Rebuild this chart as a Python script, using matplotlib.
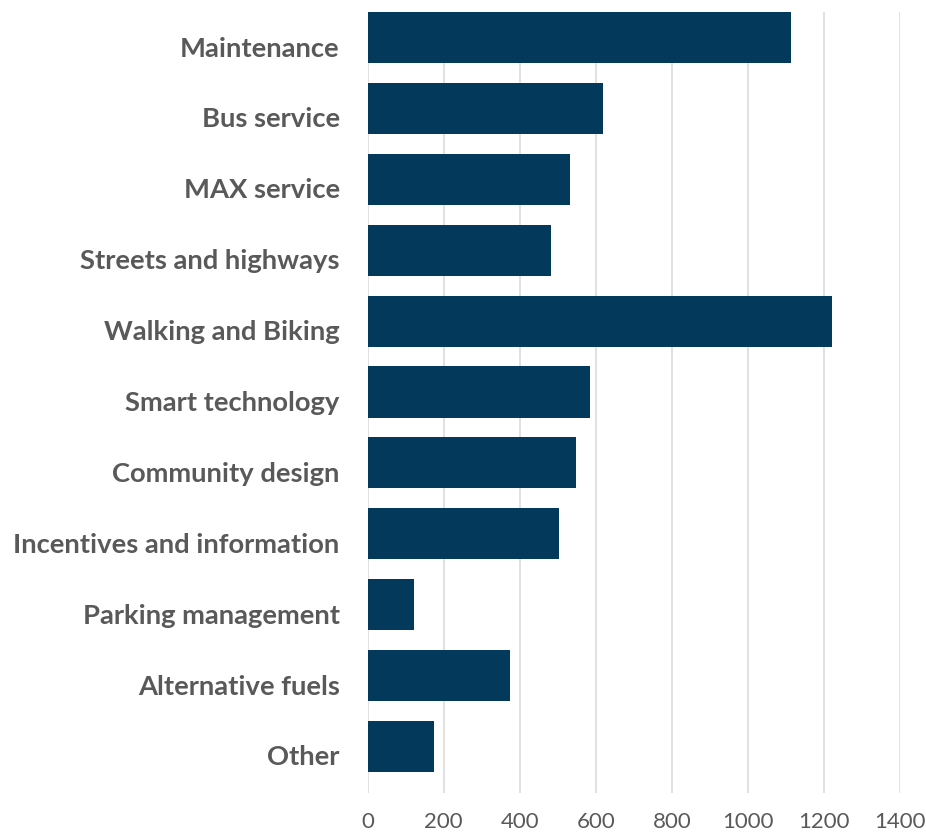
import matplotlib
matplotlib.use("Agg")
import matplotlib.pyplot as plt
from matplotlib.transforms import ScaledTranslation

categories = [
    "Maintenance",
    "Bus service",
    "MAX service",
    "Streets and highways",
    "Walking and Biking",
    "Smart technology",
    "Community design",
    "Incentives and information",
    "Parking management",
    "Alternative fuels",
    "Other",
]
votes = [1113, 620, 533, 483, 1221, 586, 548, 504, 121, 374, 174]
x_ticks = [0, 200, 400, 600, 800, 1000, 1200, 1400]

bar_color = "#03395a"
text_color = "#595959"
grid_color = "#d9d9d9"

W, H = 926, 833
fig = plt.figure(figsize=(W / 100, H / 100), dpi=100)
ax = fig.add_axes([367.5 / W, 1 - 793 / H, 532.5 / W, 781 / H])

ypos = list(range(len(categories)))
ax.barh(ypos, votes, height=0.72, color=bar_color, zorder=3)

ax.set_xlim(0, 1400)
ax.set_ylim(10.656, -0.36)
ax.set_xticks(x_ticks)
ax.set_xticklabels([str(t) for t in x_ticks], fontsize=16, color=text_color,
                   family="Lato")
ax.set_yticks(ypos)
ax.set_yticklabels(categories, fontsize=19.7, fontweight="bold", color=text_color,
                   family="Lato")
ax.tick_params(axis="x", length=0, pad=14)
ax.tick_params(axis="y", length=0, pad=20)

# category labels sit a little below the bar centres
shift = ScaledTranslation(0, -9 / 100, fig.dpi_scale_trans)
for lbl in ax.get_yticklabels():
    lbl.set_transform(lbl.get_transform() + shift)

ax.grid(axis="x", color=grid_color, linewidth=1.1, zorder=0)
ax.grid(axis="y", visible=False)
for s in ax.spines.values():
    s.set_visible(False)

fig.savefig("out.png", dpi=100)
